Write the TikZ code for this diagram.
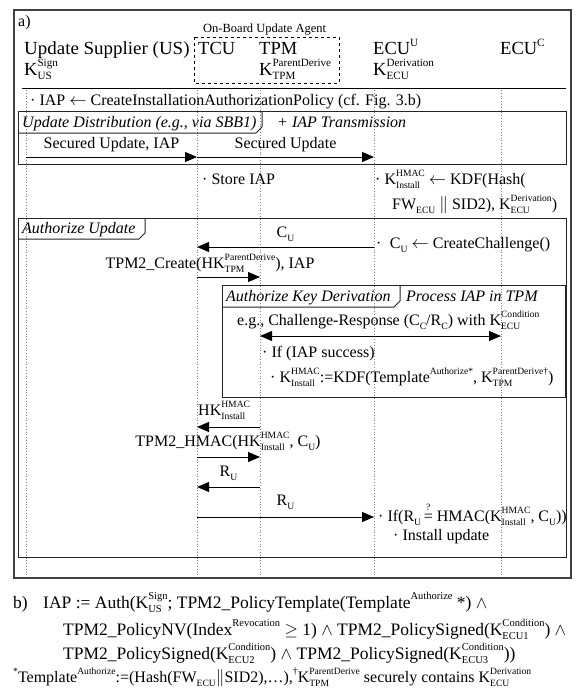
\documentclass[tikz,border=0pt]{standalone}
\usepackage{amsmath}
\usepackage{graphicx}
\usepackage{fontspec}
\setmainfont{Liberation Serif}
\usetikzlibrary{arrows.meta}
\newcommand\ssc[2]{\setbox0=\hbox{\scalebox{.6}{#1}}\setbox2=\hbox{\scalebox{.6}{#2}}\rlap{\raisebox{.47em}{\copy0}}\raisebox{-.26em}{\copy2}\ifdim\wd0>\wd2\hspace{\dimexpr\wd0-\wd2\relax}\fi}
\newcommand\Kx[3]{#1\ssc{#2}{#3}}
\newcommand\sps[1]{\raisebox{.47em}{\scalebox{.6}{#1}}}
\newcommand\sbs[1]{\raisebox{-.26em}{\scalebox{.6}{#1}}}
\newcommand\qeq{\setbox0=\hbox{=}\rlap{\hbox to \wd0{\hss\raisebox{.66em}{\scalebox{.6}{?}}\hss}}\box0}
\begin{document}
\begin{tikzpicture}[x=1pt,y=-1pt,
  tx/.style={anchor=base west, inner sep=0pt, font=\fontsize{16}{18}\selectfont},
  txc/.style={anchor=base, inner sep=0pt, font=\fontsize{16}{18}\selectfont},
  hd/.style={anchor=base west, inner sep=0pt, font=\fontsize{18.5}{20}\selectfont},
  itx/.style={anchor=base west, inner sep=0pt, font=\fontsize{16}{18}\selectfont\itshape},
  smalltx/.style={anchor=base west, inner sep=0pt, font=\fontsize{12.5}{14}\selectfont},
  btx/.style={anchor=base west, inner sep=0pt, font=\fontsize{17.5}{20}\selectfont},
  msg/.style={draw, line width=0.9pt, -{Triangle[length=12pt,width=10pt]}},
  dmsg/.style={draw, line width=0.9pt, {Triangle[length=12pt,width=10pt]}-{Triangle[length=12pt,width=10pt]}},
  life/.style={draw=black!50, dotted, line width=0.8pt},
  framebox/.style={draw=black!85, line width=1pt},
  outerbox/.style={draw=black!75, line width=1.3pt},
  agentbox/.style={draw, dashed, line width=0.9pt},
]
\useasboundingbox (0,0) rectangle (584,693);
\fill[white] (0,0) rectangle (584,693);

% outer frame
\draw[outerbox] (14,10) rectangle (571,578);
\node[tx] (la) at (18,27) {a)};

% headers
\node[smalltx] (oba) at (203,33) {On-Board Update Agent};
\draw[agentbox] (194,37) rectangle (339,83);
\node[hd] (us) at (24,55) {\scalebox{1.025}[1]{Update Supplier (US)}};
\node[hd] (kus) at (24,75) {\Kx{K}{Sign}{US}};
\node[hd] (tcu) at (198,55) {TCU};
\node[hd] (tpm) at (259,55) {TPM};
\node[hd] (ktpm) at (259,75) {\Kx{K}{ParentDerive}{TPM}};
\node[hd] (ecuu) at (373,55) {ECU\sps{U}};
\node[hd] (kecu) at (373,75) {\Kx{K}{Derivation}{ECU}};
\node[hd] (ecuc) at (500,55) {ECU\sps{C}};
\draw[line width=0.9pt] (22,88) -- (566,88);

% lifelines
\coordinate (US) at (26,90);   \coordinate (USb) at (26,577);
\coordinate (TCU) at (197,90); \coordinate (TCUb) at (197,577);
\coordinate (TPM) at (260,90); \coordinate (TPMb) at (260,577);
\coordinate (EU) at (374,90);  \coordinate (EUb) at (374,577);
\coordinate (EC) at (501,90);  \coordinate (ECb) at (501,577);
\foreach \a in {US,TCU,TPM,EU,EC}{\draw[life] (\a) -- (\a b);}

\node[tx] (iap) at (30,105) {· IAP $\leftarrow$ CreateInstallationAuthorizationPolicy (cf. Fig. 3.b)};

% Update distribution
\draw[framebox] (18,111) rectangle (566,164);
\draw[framebox] (18,133) -- (256,133) -- (262,127) -- (262,111);
\node[itx] (ud) at (22,127) {Update Distribution (e.g., via SBB1)};
\node[itx] (iapt) at (277,127) {+ IAP Transmission};
\draw[msg] (US |- 0,157) -- node[txc, above=5pt] (m1) {Secured Update, IAP} (TCU |- 0,157);
\draw[msg] (TCU |- 0,157) -- node[txc, above=5pt] (m2) {Secured Update} (EU |- 0,157);

\node[tx] (store) at (202,184) {· Store IAP};
\node[tx] (kdf1) at (375,184) {· \Kx{K}{HMAC}{Install} $\leftarrow$ KDF(Hash(};
\node[tx] (kdf2) at (392,209) {FW\sbs{ECU} $\|$ SID2), \Kx{K}{Derivation}{ECU})};

% Authorize update
\draw[framebox] (18,218) rectangle (566,557);
\draw[framebox] (18,239) -- (139,239) -- (145,233) -- (145,218);
\node[itx] (au) at (22,233) {Authorize Update};
\draw[msg] (EU |- 0,247) -- node[txc, above=5pt] (m3) {C\sbs{U}} (TCU |- 0,247);
\node[tx] (chal) at (376,248) {·\; C\sbs{U} $\leftarrow$ CreateChallenge()};
\node[txc] (cre) at (210,268) {TPM2\_Create(H\Kx{K}{ParentDerive}{TPM}), IAP};
\draw[msg] (TCU |- 0,277) -- (TPM |- 0,277);

% Authorize key derivation
\draw[framebox] (222,285) rectangle (565,397);
\draw[framebox] (222,307) -- (394,307) -- (400,301) -- (400,285);
\node[itx] (akd) at (226,301) {Authorize Key Derivation};
\node[itx] (piap) at (406,301) {Process IAP in TPM};
\node[tx] (cr) at (237,325) {e.g., Challenge-Response (C\sbs{C}/R\sbs{C}) with \Kx{K}{Condition}{ECU}};
\draw[dmsg] (TPM |- 0,336) -- (EC |- 0,336);
\node[tx] (ifs) at (262,357) {· If (IAP success)};
\node[tx] (kdf3) at (270,382) {· \Kx{K}{HMAC}{Install}:=KDF(Template\sps{Authorize*}, \Kx{K}{ParentDerive\textdagger}{TPM})};

\node[tx] (hk) at (198,415) {H\Kx{K}{HMAC}{Install}};
\draw[msg] (TPM |- 0,427) -- (TCU |- 0,427);
\node[txc] (hm) at (228,446) {TPM2\_HMAC(H\Kx{K}{HMAC}{Install}, C\sbs{U})};
\draw[msg] (TCU |- 0,457) -- (TPM |- 0,457);
\draw[msg] (TPM |- 0,487) -- node[txc, above=6pt] (m4) {R\sbs{U}} (TCU |- 0,487);
\draw[msg] (TCU |- 0,517) -- node[txc, above=7pt] (m5) {R\sbs{U}} (EU |- 0,517);
\node[tx] (ifr) at (378,521) {· If(R\sbs{U}\,\qeq\ HMAC(\Kx{K}{HMAC}{Install}, C\sbs{U}))};
\node[tx] (inst) at (393,540) {· Install update};

% b)
\node[btx] (lb) at (13,608) {b)};
\node[btx] (b1) at (43,608) {IAP := Auth(\Kx{K}{Sign}{US}; TPM2\_PolicyTemplate(Template\sps{Authorize} *) $\wedge$};
\node[btx] (b2) at (63,635) {TPM2\_PolicyNV(Index\sps{Revocation} $\geq$ 1) $\wedge$ TPM2\_PolicySigned(\Kx{K}{Condition}{ECU1}) $\wedge$};
\node[btx] (b3) at (63,659) {TPM2\_PolicySigned(\Kx{K}{Condition}{ECU2}) $\wedge$ TPM2\_PolicySigned(\Kx{K}{Condition}{ECU3}))};
\node[tx] (b4) at (13,682) {\sps{*}Template\sps{Authorize}:=(Hash(FW\sbs{ECU}$\|$SID2),\dots),\sps{\textdagger}\Kx{K}{ParentDerive}{TPM} securely contains \Kx{K}{Derivation}{ECU}};
\end{tikzpicture}
\end{document}
